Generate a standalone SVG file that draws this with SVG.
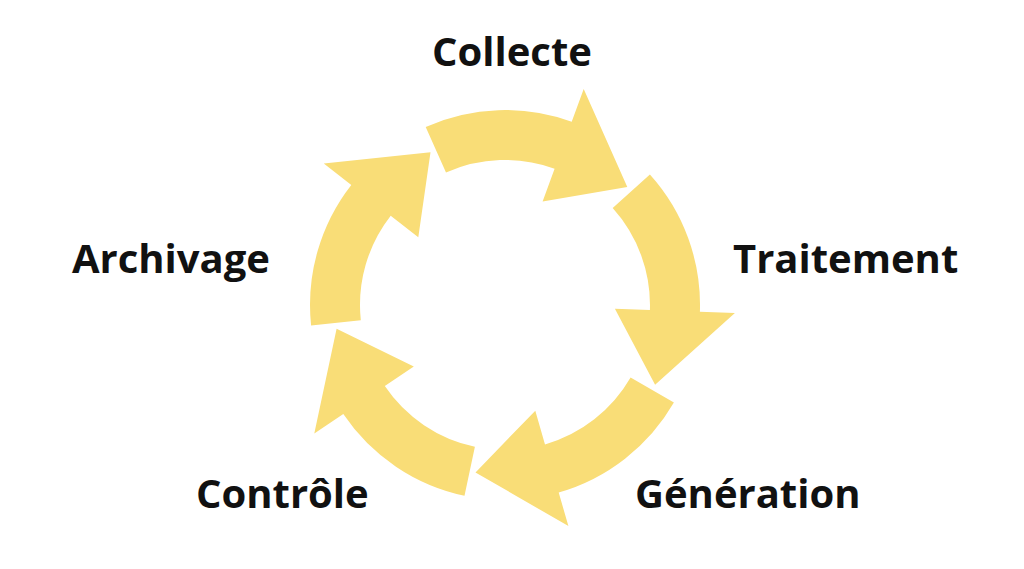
<svg xmlns="http://www.w3.org/2000/svg" width="1024" height="569" viewBox="0 0 1024 569">
<style>
.a{fill:#F9DD77}
.t{font-family:"Open Sans",sans-serif;font-weight:bold;font-size:40px;fill:#111}
</style>
<rect width="1024" height="569" fill="#fff"/>
<g id="connectors">
<path class="a" d="M425.7,126.9 A195,195 0 0 1 571.7,121.8 L583.7,88.9 L627.3,186.9 L542.6,201.6 L554.6,168.7 A145,145 0 0 0 446,172.5 Z"/>
<path class="a" d="M649.9,174.5 A195,195 0 0 1 699.9,311.8 L734.9,313 L655.1,384.8 L614.9,308.8 L649.9,310.1 A145,145 0 0 0 612.7,208 Z"/>
<path class="a" d="M673.9,402.5 A195,195 0 0 1 558.7,492.5 L568.4,526.1 L475.5,472.4 L535.3,410.7 L545,444.4 A145,145 0 0 0 630.6,377.5 Z"/>
<path class="a" d="M464.5,495.7 A195,195 0 0 1 343.3,414 L314.3,433.6 L336.6,328.7 L413.8,366.5 L384.8,386.1 A145,145 0 0 0 474.9,446.8 Z"/>
<path class="a" d="M311.1,325.4 A195,195 0 0 1 351.3,184.9 L323.8,163.4 L430.5,152.2 L418.3,237.3 L390.7,215.7 A145,145 0 0 0 360.8,320.2 Z"/>
</g>
<g id="collecte"><text class="t" x="512" y="66" text-anchor="middle">Collecte</text></g>
<g id="traitement"><text class="t" x="733" y="273">Traitement</text></g>
<g id="generation"><text class="t" x="635" y="508">Génération</text></g>
<g id="controle"><text class="t" x="196" y="508">Contrôle</text></g>
<g id="archivage"><text class="t" x="72" y="273">Archivage</text></g>
</svg>
